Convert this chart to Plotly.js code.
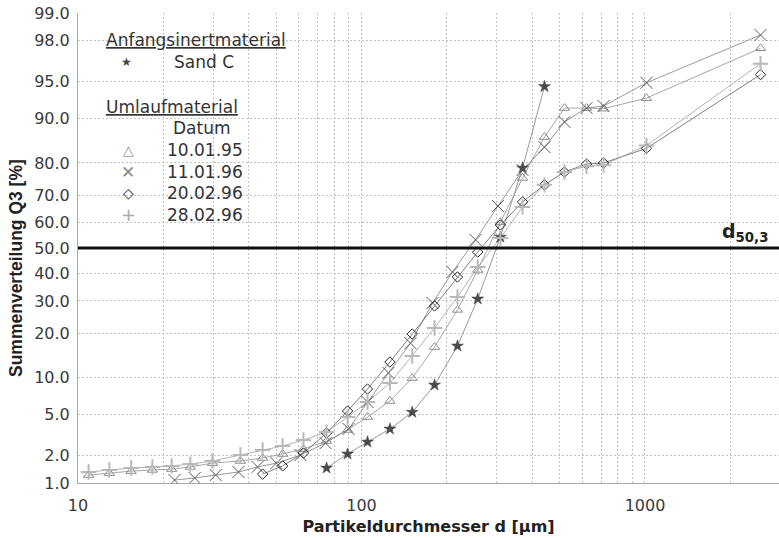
<!DOCTYPE html>
<html>
<head>
<meta charset="utf-8">
<script src="https://cdn.plot.ly/plotly-3.0.1.min.js"></script>
<style>html,body{margin:0;padding:0;background:#fff;}#chart{width:779px;height:538px;}</style>
</head>
<body>
<div id="chart"></div>
<script>
// ---- data (particle size d in µm, cumulative distribution Q3 in %) ----
var sandC_d = [75.3, 89.3, 105, 126, 151, 181, 218, 257, 309, 370, 442];
var sandC_q = [1.47, 2.07, 2.74, 3.66, 5.2, 8.75, 16.6, 30.7, 54.3, 78.6, 94.5];

var s100195_d = [10.9, 12.9, 15.4, 18.3, 21.4, 24.9, 29.8, 37.4, 44.8, 52.7, 62.4, 75.3, 89.3, 105, 126, 151, 181, 218, 257, 309, 370, 442, 520, 622, 714, 1012, 2556];
var s100195_q = [1.23, 1.29, 1.36, 1.40, 1.43, 1.51, 1.66, 1.75, 1.88, 2.07, 2.33, 2.80, 3.58, 4.71, 6.5, 9.9, 16.35, 27.0, 41.4, 60.1, 75.6, 86.4, 91.7, 91.7, 91.6, 93.1, 97.6];

var s110196_d = [21.9, 25.8, 30.6, 36.8, 43.0, 50.1, 60.9, 74.7, 90.0, 105, 124.5, 148.9, 178, 209.4, 252.5, 303, 370, 442, 520, 622, 714, 1012, 2556];
var s110196_q = [1.08, 1.14, 1.23, 1.33, 1.51, 1.66, 2.02, 2.67, 3.66, 6.37, 10.8, 17.3, 29.3, 40.6, 53.2, 66.1, 78.0, 84.1, 89.4, 91.7, 92.0, 94.9, 98.25];

var s200296_d = [44.8, 52.7, 62.4, 75.3, 89.3, 105, 126, 151, 181, 218, 257, 309, 370, 442, 520, 622, 714, 1012, 2556];
var s200296_q = [1.26, 1.55, 2.12, 3.35, 5.33, 8.14, 12.95, 19.73, 28.3, 38.7, 48.4, 59.0, 67.6, 73.4, 77.4, 79.7, 80.0, 83.8, 95.7];

var s280296_d = [10.9, 12.9, 15.4, 18.3, 21.4, 24.9, 29.8, 37.4, 44.8, 52.7, 62.4, 75.3, 89.3, 105, 126, 151, 181, 218, 257, 309, 370, 442, 520, 622, 714, 1012, 2556];
var s280296_q = [1.33, 1.40, 1.47, 1.51, 1.55, 1.62, 1.75, 2.02, 2.28, 2.50, 2.87, 3.42, 4.71, 6.37, 9.07, 14.25, 21.4, 31.4, 42.5, 53.9, 65.8, 73.4, 77.4, 79.1, 79.4, 84.5, 96.6];

var yTickPct = [1, 2, 5, 10, 20, 30, 40, 50, 60, 70, 80, 90, 95, 98, 99];
var yTickText = ["1.0","2.0","5.0","10.0","20.0","30.0","40.0","50.0","60.0","70.0","80.0","90.0","95.0","98.0","99.0"];
var xTickVals = [10, 100, 1000];
var xTickText = ["10", "100", "1000"];
var xMinorVals = [20,30,40,50,60,70,80,90,200,300,400,500,600,700,800,900,2000];

// ---- probability (normal) scale ----
function probit(p){
  var a=[-3.969683028665376e+01,2.209460984245205e+02,-2.759285104469687e+02,1.383577518672690e+02,-3.066479806614716e+01,2.506628277459239e+00];
  var b=[-5.447609879822406e+01,1.615858368580409e+02,-1.556989798598866e+02,6.680131188771972e+01,-1.328068155288572e+01];
  var c=[-7.784894002430293e-03,-3.223964580411365e-01,-2.400758277161838e+00,-2.549732539343734e+00,4.374664141464968e+00,2.938163982698783e+00];
  var d=[7.784695709041462e-03,3.224671290700398e-01,2.445134137142996e+00,3.754408661907416e+00];
  var pl=0.02425, ph=1-pl, q, r;
  if(p<pl){q=Math.sqrt(-2*Math.log(p));return (((((c[0]*q+c[1])*q+c[2])*q+c[3])*q+c[4])*q+c[5])/((((d[0]*q+d[1])*q+d[2])*q+d[3])*q+1);}
  if(p<=ph){q=p-0.5;r=q*q;return (((((a[0]*r+a[1])*r+a[2])*r+a[3])*r+a[4])*r+a[5])*q/(((((b[0]*r+b[1])*r+b[2])*r+b[3])*r+b[4])*r+1);}
  q=Math.sqrt(-2*Math.log(1-p));return -(((((c[0]*q+c[1])*q+c[2])*q+c[3])*q+c[4])*q+c[5])/((((d[0]*q+d[1])*q+d[2])*q+d[3])*q+1);
}
function P(arr){ return arr.map(function(v){ return probit(v/100); }); }

var series = [
  {x:sandC_d,   y:sandC_q,   sym:'star',             mc:'#4a4a4a', size:9,  lw:0.5, lc:'#808080'},
  {x:s100195_d, y:s100195_q, sym:'triangle-up-open', mc:'#8c8c8c', size:9,  lw:1,   lc:'#909090'},
  {x:s110196_d, y:s110196_q, sym:'x-thin-open',      mc:'#5a5a5a', size:12, lw:1,   lc:'#808080'},
  {x:s200296_d, y:s200296_q, sym:'diamond-open',     mc:'#2a2a2a', size:8,  lw:1,   lc:'#606060'},
  {x:s280296_d, y:s280296_q, sym:'cross-thin-open',  mc:'#b8b8b8', size:11, lw:2,   lc:'#a0a0a0'}
];
var traces = [];
series.forEach(function(s){
  traces.push({type:'scatter', mode:'lines', x:s.x, y:P(s.y), line:{color:s.lc, width:0.8}, hoverinfo:'skip', showlegend:false});
});
series.forEach(function(s){
  traces.push({type:'scatter', mode:'markers', x:s.x, y:P(s.y), showlegend:false,
    marker:{symbol:s.sym, size:s.size, color:s.mc, line:{color:s.mc, width:s.lw}}});
});

var tickFont = {family:'DejaVu Sans, sans-serif', size:16, color:'#3a3a3a'};
var legFont = {family:'DejaVu Sans, sans-serif', size:17, color:'#333'};
function px2x(px){ return (px-78)/701; }
function py2y(py){ return (483-py)/470; }
function txt(t, px, py, font, anchor){
  return {text:t, xref:'paper', yref:'paper', x:px2x(px), y:py2y(py), xanchor:anchor||'left', yanchor:'middle', showarrow:false, font:font||legFont};
}
var annotations = [
  txt('<u>Anfangsinertmaterial</u>', 104, 40),
  txt('★', 126, 62, {family:'DejaVu Sans', size:12, color:'#444'}, 'center'),
  txt('Sand C', 172, 62),
  txt('<u>Umlaufmaterial</u>', 104, 107),
  txt('Datum', 171, 128),
  txt('△', 128, 150, {family:'DejaVu Sans', size:14, color:'#999'}, 'center'),
  txt('10.01.95', 165, 150),
  txt('✕', 128, 172, {family:'DejaVu Sans', size:17, color:'#8a8a8a'}, 'center'),
  txt('11.01.96', 165, 172),
  txt('◇', 128, 193, {family:'DejaVu Sans', size:14, color:'#222'}, 'center'),
  txt('20.02.96', 165, 193),
  txt('+', 128, 215, {family:'DejaVu Sans', size:18, color:'#aaa'}, 'center'),
  txt('28.02.96', 165, 215),
  {text:'<b>d<sub>50,3</sub></b>', xref:'paper', yref:'paper', x:px2x(770), y:py2y(247), xanchor:'right', yanchor:'bottom', showarrow:false, font:{family:'DejaVu Sans, sans-serif', size:19, color:'#222'}},
  {text:'<b>Summenverteilung Q3 [%]</b>', xref:'paper', yref:'paper', x:px2x(16), y:py2y(268), xanchor:'center', yanchor:'middle', textangle:-90, showarrow:false, font:{family:'Liberation Sans, Arial, sans-serif', size:17.5, color:'#222'}}
];

var gridStyle = {gridcolor:'#c4c4c4', griddash:'2px,2px', gridwidth:1};
var layout = {
  width:779, height:538,
  margin:{l:78, r:0, t:13, b:55},
  paper_bgcolor:'#fff', plot_bgcolor:'#fff',
  showlegend:false,
  xaxis:{type:'log', range:[1, 3.4727], tickmode:'array', tickvals:xTickVals, ticktext:xTickText, tickangle:0,
    showgrid:true, gridcolor:gridStyle.gridcolor, griddash:gridStyle.griddash, gridwidth:1,
    minor:{tickmode:'array', tickvals:xMinorVals, showgrid:true, gridcolor:gridStyle.gridcolor, griddash:gridStyle.griddash, gridwidth:1, ticks:''},
    showline:true, linecolor:'#aaa', linewidth:1, zeroline:false, ticks:'', tickfont:tickFont, ticklabelstandoff:8,
    title:{text:'<b>Partikeldurchmesser d [μm]</b>', font:{family:'DejaVu Sans, sans-serif', size:16, color:'#222'}, standoff:6}},
  yaxis:{type:'linear', range:[probit(0.01), probit(0.99)], tickmode:'array', tickvals:P(yTickPct), ticktext:yTickText,
    showgrid:true, gridcolor:gridStyle.gridcolor, griddash:gridStyle.griddash, gridwidth:1,
    showline:true, linecolor:'#aaa', linewidth:1, zeroline:false, ticks:'', tickfont:tickFont, ticklabelstandoff:4},
  shapes:[{type:'line', xref:'paper', x0:0, x1:1, yref:'y', y0:probit(0.5), y1:probit(0.5), line:{color:'#111', width:3}}],
  annotations:annotations
};
Plotly.newPlot('chart', traces, layout, {staticPlot:true, displayModeBar:false});
</script>
</body>
</html>
